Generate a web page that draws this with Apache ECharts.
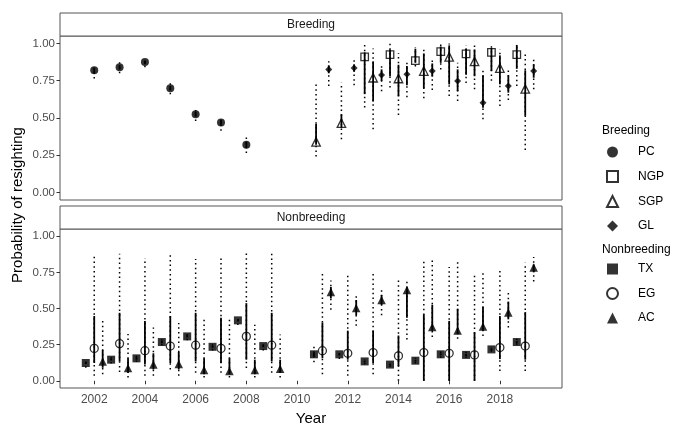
<!DOCTYPE html>
<html>
<head>
<meta charset="utf-8">
<script src="https://cdn.jsdelivr.net/npm/echarts@6/dist/echarts.min.js"></script>
<style>html,body{margin:0;padding:0;background:#fff;}#c{width:673px;height:427px;}</style>
</head>
<body>
<div id="c"></div>
<script>
// ---------------- DATA ----------------
const xTickLabels = [2002, 2004, 2006, 2008, 2010, 2012, 2014, 2016, 2018];
const yTickLabels = [0, 0.25, 0.5, 0.75, 1];

// Breeding panel
const pcYears  = [2002, 2003, 2004, 2005, 2006, 2007, 2008];
const pcEst    = [0.82, 0.84, 0.875, 0.70, 0.525, 0.47, 0.32];
const pcLo95   = [0.765, 0.80, 0.84, 0.66, 0.48, 0.415, 0.265];
const pcHi95   = [0.85, 0.88, 0.89, 0.745, 0.56, 0.50, 0.385];
const pcLo50   = [0.80, 0.825, 0.86, 0.685, 0.51, 0.455, 0.30];
const pcHi50   = [0.835, 0.855, 0.885, 0.715, 0.54, 0.485, 0.34];

const ngpYears = [2013, 2014, 2015, 2016, 2017, 2018, 2019];
const ngpEst   = [0.91, 0.925, 0.885, 0.945, 0.93, 0.94, 0.925];
const ngpLo95  = [0.57, 0.705, 0.845, 0.825, 0.735, 0.75, 0.715];
const ngpHi95  = [0.99, 1.0, 0.975, 1.0, 0.99, 0.995, 0.995];
const ngpLo50  = [0.66, 0.78, 0.87, 0.87, 0.79, 0.815, 0.83];
const ngpHi50  = [0.94, 0.96, 0.965, 0.98, 0.965, 0.97, 0.99];

const sgpYears = [2011, 2012, 2013, 2014, 2015, 2016, 2017, 2018, 2019];
const sgpEst   = [0.34, 0.465, 0.77, 0.765, 0.815, 0.91, 0.88, 0.835, 0.695];
const sgpLo95  = [0.241, 0.357, 0.425, 0.52, 0.632, 0.647, 0.692, 0.58, 0.286];
const sgpHi95  = [0.736, 0.736, 0.966, 0.935, 0.967, 1.0, 0.993, 0.96, 0.948];
const sgpLo50  = [0.32, 0.435, 0.61, 0.645, 0.70, 0.725, 0.78, 0.726, 0.515];
const sgpHi50  = [0.46, 0.525, 0.88, 0.857, 0.933, 0.987, 0.96, 0.92, 0.82];

const glYears  = [2011, 2012, 2013, 2014, 2015, 2016, 2017, 2018, 2019];
const glEst    = [0.826, 0.835, 0.788, 0.793, 0.815, 0.748, 0.602, 0.714, 0.815];
const glLo95   = [0.714, 0.719, 0.68, 0.64, 0.687, 0.614, 0.491, 0.62, 0.692];
const glHi95   = [0.881, 0.893, 0.853, 0.888, 0.888, 0.87, 0.83, 0.826, 0.904];
const glLo50   = [0.80, 0.81, 0.748, 0.72, 0.777, 0.68, 0.569, 0.67, 0.77];
const glHi50   = [0.853, 0.86, 0.826, 0.848, 0.866, 0.826, 0.786, 0.786, 0.86];

// Nonbreeding panel
const nbYears  = [2002, 2003, 2004, 2005, 2006, 2007, 2008, 2009, 2011, 2012, 2013, 2014, 2015, 2016, 2017, 2018, 2019];
const txEst    = [0.123, 0.146, 0.155, 0.268, 0.307, 0.235, 0.418, 0.24, 0.183, 0.183, 0.134, 0.112, 0.139, 0.183, 0.179, 0.217, 0.268];
const txLo95   = [0.09, 0.12, 0.13, 0.245, 0.28, 0.21, 0.385, 0.21, 0.128, 0.15, 0.115, 0.095, 0.12, 0.16, 0.16, 0.2, 0.25];
const txHi95   = [0.15, 0.17, 0.18, 0.29, 0.335, 0.26, 0.45, 0.27, 0.253, 0.21, 0.15, 0.13, 0.16, 0.205, 0.2, 0.235, 0.29];
const txLo50   = [0.115, 0.14, 0.145, 0.26, 0.3, 0.228, 0.41, 0.232, 0.17, 0.175, 0.128, 0.106, 0.133, 0.176, 0.172, 0.21, 0.26];
const txHi50   = [0.13, 0.152, 0.163, 0.276, 0.315, 0.242, 0.426, 0.248, 0.196, 0.191, 0.14, 0.118, 0.145, 0.19, 0.186, 0.224, 0.276];

const egEst    = [0.224, 0.257, 0.208, 0.24, 0.246, 0.224, 0.307, 0.246, 0.208, 0.19, 0.195, 0.172, 0.195, 0.19, 0.179, 0.23, 0.24];
const egLo95   = [0.034, 0.06, 0.034, 0.078, 0.056, 0.056, 0.089, 0.056, 0.045, 0.034, 0.045, 0.0, 0.0, 0.0, 0.0, 0.067, 0.067];
const egHi95   = [0.861, 0.879, 0.85, 0.879, 0.843, 0.866, 0.901, 0.879, 0.754, 0.743, 0.75, 0.709, 0.828, 0.787, 0.745, 0.775, 0.817];
const egLo50   = [0.123, 0.134, 0.112, 0.123, 0.134, 0.123, 0.146, 0.134, 0.156, 0.146, 0.123, 0.1, 0.0, 0.0, 0.0, 0.15, 0.146];
const egHi50   = [0.448, 0.47, 0.414, 0.448, 0.47, 0.436, 0.537, 0.47, 0.403, 0.347, 0.347, 0.313, 0.459, 0.414, 0.336, 0.448, 0.475];

const acEst    = [0.134, 0.089, 0.112, 0.116, 0.074, 0.067, 0.074, 0.083, 0.615, 0.503, 0.559, 0.628, 0.372, 0.347, 0.375, 0.472, 0.783];
const acLo95   = [0.045, 0.022, 0.034, 0.034, 0.022, 0.022, 0.022, 0.022, 0.492, 0.38, 0.454, 0.285, 0.302, 0.29, 0.31, 0.369, 0.687];
const acHi95   = [0.414, 0.324, 0.369, 0.40, 0.436, 0.436, 0.387, 0.32, 0.693, 0.593, 0.626, 0.705, 0.839, 0.828, 0.763, 0.626, 0.857];
const acLo50   = [0.09, 0.056, 0.078, 0.078, 0.045, 0.045, 0.045, 0.056, 0.57, 0.454, 0.525, 0.436, 0.347, 0.324, 0.347, 0.425, 0.75];
const acHi50   = [0.213, 0.156, 0.19, 0.2, 0.156, 0.156, 0.146, 0.146, 0.649, 0.559, 0.593, 0.645, 0.526, 0.499, 0.51, 0.548, 0.805];

// ---------------- BUILD ----------------
const FONT = '"Liberation Sans", Arial, sans-serif';
const DODGE_WIDTH = 1;

// position dodge: groups present in a year share the dodge width
function dodge(groups) {
  const yearsMap = {};
  groups.forEach((g, gi) => g.years.forEach(y => { (yearsMap[y] = yearsMap[y] || []).push(gi); }));
  return groups.map((g, gi) => g.years.map(y => {
    const present = yearsMap[y];
    const n = present.length, i = present.indexOf(gi);
    return y - DODGE_WIDTH / 2 + DODGE_WIDTH / n * (i + 0.5);
  }));
}

const breedGroups = [
  {name: 'PC',  years: pcYears,  est: pcEst,  lo95: pcLo95,  hi95: pcHi95,  lo50: pcLo50,  hi50: pcHi50,  symbol: 'circle',   open: false, size: 8},
  {name: 'NGP', years: ngpYears, est: ngpEst, lo95: ngpLo95, hi95: ngpHi95, lo50: ngpLo50, hi50: ngpHi50, symbol: 'rect',     open: true,  size: 7.5},
  {name: 'SGP', years: sgpYears, est: sgpEst, lo95: sgpLo95, hi95: sgpHi95, lo50: sgpLo50, hi50: sgpHi50, symbol: 'triangle', open: true,  size: 8.5},
  {name: 'GL',  years: glYears,  est: glEst,  lo95: glLo95,  hi95: glHi95,  lo50: glLo50,  hi50: glHi50,  symbol: 'diamond',  open: false, size: 7}
];
const nbGroups = [
  {name: 'TX', years: nbYears, est: txEst, lo95: txLo95, hi95: txHi95, lo50: txLo50, hi50: txHi50, symbol: 'rect',     open: false, size: 8},
  {name: 'EG', years: nbYears, est: egEst, lo95: egLo95, hi95: egHi95, lo50: egLo50, hi50: egHi50, symbol: 'circle',   open: true,  size: 8},
  {name: 'AC', years: nbYears, est: acEst, lo95: acLo95, hi95: acHi95, lo50: acLo50, hi50: acHi50, symbol: 'triangle', open: false, size: 8.5}
];
const breedX = dodge(breedGroups);
const nbX = dodge(nbGroups);

function errRender(params, api) {
  const x = api.value(0);
  const a = api.coord([x, api.value(1)]);
  const b = api.coord([x, api.value(2)]);
  const c = api.coord([x, api.value(3)]);
  const d = api.coord([x, api.value(4)]);
  return {
    type: 'group',
    children: [
      {type: 'line', shape: {x1: a[0], y1: a[1], x2: b[0], y2: b[1]},
       style: {stroke: '#000', lineWidth: 1.5, lineDash: [1.5, 3.2]}},
      {type: 'line', shape: {x1: c[0], y1: c[1], x2: d[0], y2: d[1]},
       style: {stroke: '#000', lineWidth: 1.8}}
    ]
  };
}

const series = [];
function addGroups(groups, xs, axisIdx) {
  groups.forEach((g, gi) => {
    series.push({
      type: 'custom', name: g.name + '_err', xAxisIndex: axisIdx, yAxisIndex: axisIdx,
      renderItem: errRender, silent: true, z: 2,
      data: g.years.map((y, i) => [xs[gi][i], g.lo95[i], g.hi95[i], g.lo50[i], g.hi50[i]])
    });
  });
  groups.forEach((g, gi) => {
    series.push({
      type: 'scatter', name: g.name, xAxisIndex: axisIdx, yAxisIndex: axisIdx, z: 3,
      symbol: g.symbol, symbolSize: g.size,
      itemStyle: g.open ? {color: 'rgba(255,255,255,0)', borderColor: '#000', borderWidth: 1.3}
                        : {color: '#000', borderWidth: 0},
      data: g.years.map((y, i) => [xs[gi][i], g.est[i]])
    });
  });
}
addGroups(breedGroups, breedX, 0);
addGroups(nbGroups, nbX, 1);

const PL = 60, PR = 562, PW = PR - PL;
const grids = [
  {left: PL, top: 36, width: PW, height: 164},
  {left: PL, top: 229, width: PW, height: 164}
];

function yAxisOpt(idx) {
  return {
    type: 'value', gridIndex: idx, min: -0.05, max: 1.05,
    axisLine: {show: false}, splitLine: {show: false},
    axisTick: {show: true, length: 3.5, lineStyle: {color: '#333'}, customValues: yTickLabels},
    axisLabel: {color: '#4d4d4d', fontFamily: FONT, fontSize: 11.5, margin: 5,
                customValues: yTickLabels, formatter: v => v.toFixed(2)}
  };
}
function xAxisOpt(idx, showLabels) {
  return {
    type: 'value', gridIndex: idx, min: 2000.65, max: 2020.45,
    axisLine: {show: false}, splitLine: {show: false},
    axisTick: {show: showLabels, length: 3.5, lineStyle: {color: '#333'}, customValues: xTickLabels},
    axisLabel: {show: showLabels, color: '#4d4d4d', fontFamily: FONT, fontSize: 12, margin: 6,
                customValues: xTickLabels, formatter: v => String(v)},
    name: showLabels ? 'Year' : '', nameLocation: 'middle', nameGap: 23,
    nameTextStyle: {fontFamily: FONT, fontSize: 15, color: '#000'}
  };
}

const legendCommon = {
  orient: 'vertical', left: 606, padding: 0, itemWidth: 11, itemHeight: 11, itemGap: 12,
  selectedMode: false,
  textStyle: {fontFamily: FONT, fontSize: 12, color: '#000', padding: [0, 0, 0, 15]}
};

function stripGraphic(y, text) {
  return [
    {type: 'rect', shape: {x: PL, y: y, width: PW, height: 23},
     style: {fill: '#fff', stroke: '#555', lineWidth: 1}, z: 10},
    {type: 'text', x: PL + PW / 2, y: y + 11.5,
     style: {text: text, fontFamily: FONT, fontSize: 12, fill: '#1a1a1a', align: 'center', verticalAlign: 'middle'}, z: 11}
  ];
}

const option = {
  animation: false,
  backgroundColor: '#fff',
  grid: grids.map(g => Object.assign({show: true, borderColor: '#555', borderWidth: 1, backgroundColor: '#fff'}, g)),
  xAxis: [xAxisOpt(0, false), xAxisOpt(1, true)],
  yAxis: [yAxisOpt(0), yAxisOpt(1)],
  legend: [
    Object.assign({top: 146, data: breedGroups.map(g => g.name)}, legendCommon),
    Object.assign({top: 263, data: nbGroups.map(g => g.name)}, legendCommon)
  ],
  graphic: [
    ...stripGraphic(13, 'Breeding'),
    ...stripGraphic(206, 'Nonbreeding'),
    {type: 'text', x: 602, y: 131,
     style: {text: 'Breeding', fontFamily: FONT, fontSize: 12, fill: '#000', verticalAlign: 'middle'}},
    {type: 'text', x: 602, y: 250,
     style: {text: 'Nonbreeding', fontFamily: FONT, fontSize: 12, fill: '#000', verticalAlign: 'middle'}},
    {type: 'text', x: 18, y: 205, rotation: Math.PI / 2,
     style: {text: 'Probability of resighting', fontFamily: FONT, fontSize: 15, fill: '#000', align: 'center', verticalAlign: 'middle'}}
  ],
  series: series
};

const chart = echarts.init(document.getElementById('c'), null, {renderer: 'canvas'});
chart.setOption(option);
</script>
</body>
</html>
